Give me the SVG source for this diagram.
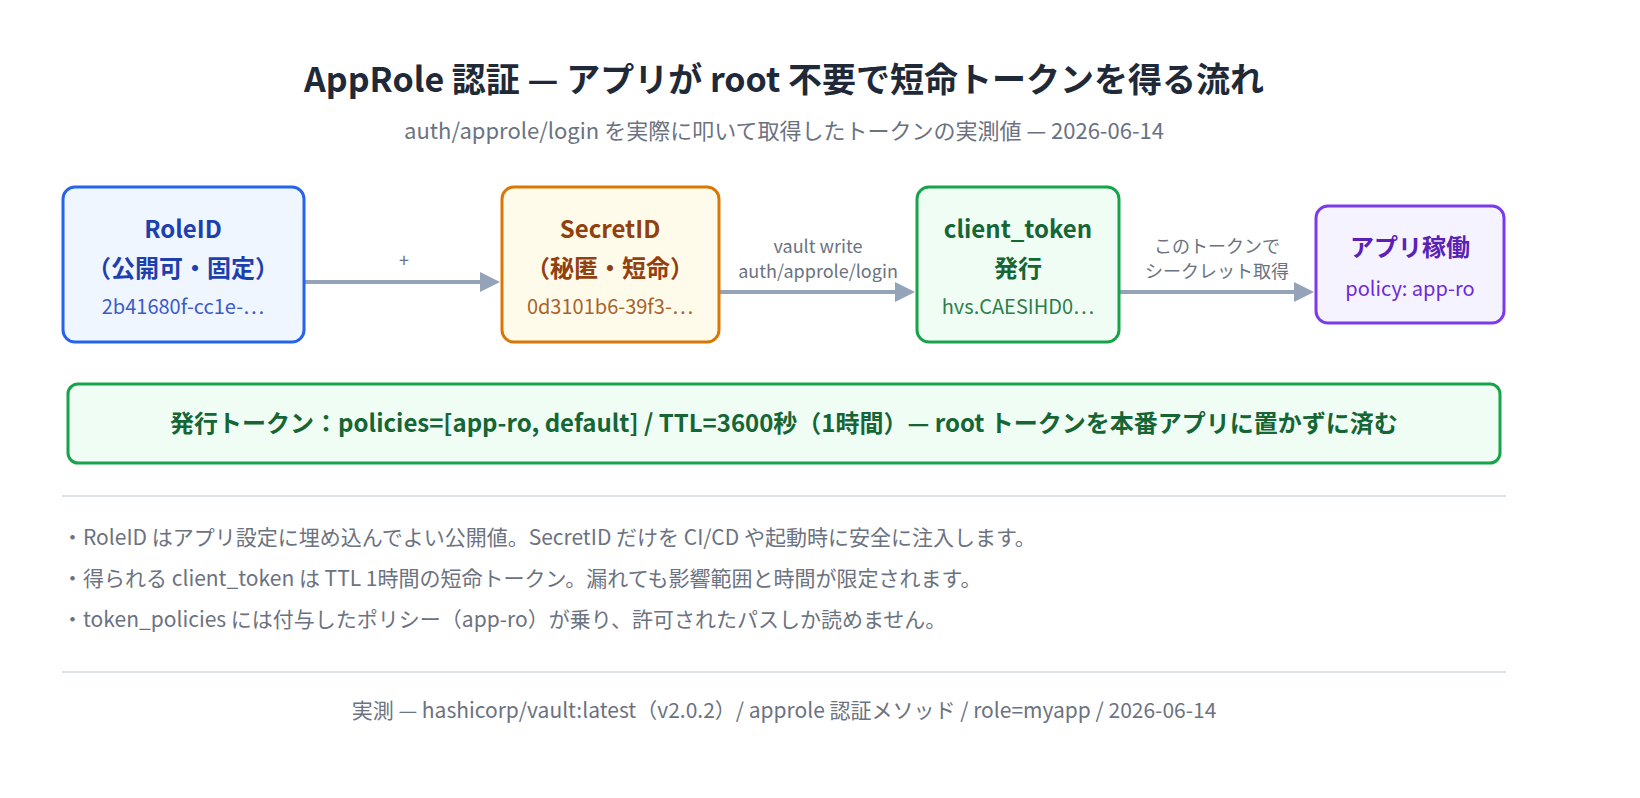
<svg xmlns="http://www.w3.org/2000/svg" width="1640" height="798" viewBox="0 0 1640 798">
<style>
text{font-family:"Noto Sans CJK JP","Noto Sans",sans-serif}
.t{font-size:24px;font-weight:700;text-anchor:middle}
.s{font-size:20px;text-anchor:middle}
.l{font-size:18px;fill:#6b7280;text-anchor:middle}
.b{font-size:21px;fill:#6b7280}
.c{stroke:#94a3b8;stroke-width:4;fill:none}
</style>
<defs><marker id="a" markerWidth="5" markerHeight="5" refX="4" refY="2.5" orient="auto" markerUnits="strokeWidth"><path d="M0,0L5,2.5L0,5z" fill="#94a3b8"/></marker></defs>
<rect width="1640" height="798" fill="#fff"/>
<text x="784" y="92" style="font-size:34px;font-weight:700;fill:#1f2937;text-anchor:middle">AppRole 認証 — アプリが root 不要で短命トークンを得る流れ</text>
<text x="784" y="139" style="font-size:22px;fill:#6b7280;text-anchor:middle">auth/approle/login を実際に叩いて取得したトークンの実測値 — 2026-06-14</text>
<g id="connectors">
<path class="c" d="M304,282H496" marker-end="url(#a)"/><text class="l" x="404" y="267">+</text>
<path class="c" d="M719,292H911" marker-end="url(#a)"/><text class="l" x="818" y="253">vault write</text><text class="l" x="818" y="278">auth/approle/login</text>
<path class="c" d="M1119,292H1310" marker-end="url(#a)"/><text class="l" x="1217" y="253">このトークンで</text><text class="l" x="1217" y="278">シークレット取得</text>
</g>
<g id="roleid"><rect x="63" y="187" width="241" height="155" rx="12" fill="#eff6ff" stroke="#2563eb" stroke-width="3"/>
<text class="t" x="183" y="238" fill="#1e40af">RoleID</text><text class="t" x="183" y="277" fill="#1e40af">（公開可・固定）</text><text class="s" x="183" y="314" fill="#3b5bc8">2b41680f-cc1e-…</text></g>
<g id="secretid"><rect x="502" y="187" width="217" height="155" rx="12" fill="#fffbeb" stroke="#d97706" stroke-width="3"/>
<text class="t" x="610" y="238" fill="#92400e">SecretID</text><text class="t" x="610" y="277" fill="#92400e">（秘匿・短命）</text><text class="s" x="610" y="314" fill="#a8632a">0d3101b6-39f3-…</text></g>
<g id="token"><rect x="917" y="187" width="202" height="155" rx="12" fill="#f0fdf4" stroke="#16a34a" stroke-width="3"/>
<text class="t" x="1018" y="238" fill="#166534">client_token</text><text class="t" x="1018" y="277" fill="#166534">発行</text><text class="s" x="1018" y="314" fill="#2e7d4a">hvs.CAESIHD0…</text></g>
<g id="app"><rect x="1316" y="206" width="188" height="117" rx="12" fill="#f5f3ff" stroke="#7c3aed" stroke-width="3"/>
<text class="t" x="1410" y="256" fill="#5b21b6">アプリ稼働</text><text class="s" x="1410" y="296" fill="#6d28d9">policy: app-ro</text></g>
<g id="banner"><rect x="68" y="384" width="1432" height="79" rx="10" fill="#f0fdf4" stroke="#16a34a" stroke-width="3"/>
<text x="784" y="432" style="font-size:24px;font-weight:700;fill:#166534;text-anchor:middle">発行トークン：policies=[app-ro, default] / TTL=3600秒（1時間）— root トークンを本番アプリに置かずに済む</text></g>
<path d="M62,496H1506M62,672H1506" stroke="#d1d5db" stroke-width="1.5"/>
<text class="b" x="62" y="545">・RoleID はアプリ設定に埋め込んでよい公開値。SecretID だけを CI/CD や起動時に安全に注入します。</text>
<text class="b" x="62" y="586">・得られる client_token は TTL 1時間の短命トークン。漏れても影響範囲と時間が限定されます。</text>
<text class="b" x="62" y="627">・token_policies には付与したポリシー（app-ro）が乗り、許可されたパスしか読めません。</text>
<text x="784" y="718" style="font-size:21px;fill:#6b7280;text-anchor:middle">実測 — hashicorp/vault:latest（v2.0.2）/ approle 認証メソッド / role=myapp / 2026-06-14</text>
</svg>
